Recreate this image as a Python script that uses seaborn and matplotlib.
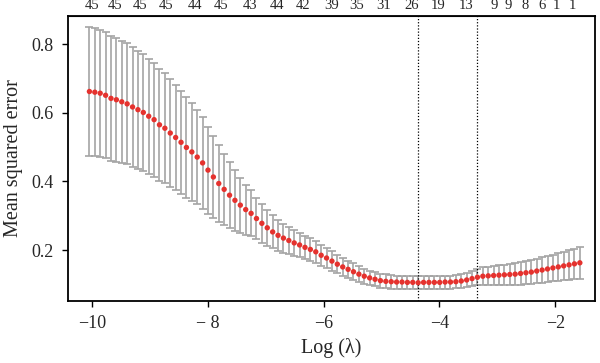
import numpy as np
import pandas as pd
import matplotlib
matplotlib.use("Agg")
import matplotlib.pyplot as plt
import seaborn as sns

# cross-validation curve (log lambda, mean MSE, sd)
log_lambda = [
    -10.04, -9.947, -9.854, -9.761, -9.668, -9.575, -9.482, -9.389, -9.296, -9.203,
    -9.11, -9.017, -8.924, -8.831, -8.738, -8.645, -8.552, -8.459, -8.366, -8.273,
    -8.18, -8.087, -7.994, -7.901, -7.808, -7.715, -7.622, -7.529, -7.436, -7.343,
    -7.25, -7.157, -7.064, -6.971, -6.878, -6.785, -6.692, -6.599, -6.506, -6.413,
    -6.32, -6.227, -6.134, -6.041, -5.948, -5.855, -5.762, -5.669, -5.576, -5.483,
    -5.39, -5.297, -5.204, -5.111, -5.018, -4.925, -4.832, -4.739, -4.646, -4.553,
    -4.46, -4.367, -4.274, -4.181, -4.088, -3.995, -3.902, -3.809, -3.716, -3.623,
    -3.53, -3.437, -3.344, -3.251, -3.158, -3.065, -2.972, -2.879, -2.786, -2.693,
    -2.6, -2.507, -2.414, -2.321, -2.228, -2.135, -2.042, -1.949, -1.856, -1.763,
    -1.67, -1.577,
]
cv_mean = [
    0.662, 0.660, 0.657, 0.651, 0.642, 0.638, 0.632, 0.626, 0.617, 0.609,
    0.601, 0.590, 0.580, 0.565, 0.555, 0.541, 0.528, 0.514, 0.499, 0.486,
    0.471, 0.454, 0.433, 0.413, 0.394, 0.377, 0.360, 0.345, 0.331, 0.318,
    0.307, 0.292, 0.278, 0.265, 0.253, 0.243, 0.235, 0.228, 0.221, 0.215,
    0.208, 0.202, 0.195, 0.185, 0.177, 0.168, 0.159, 0.151, 0.144, 0.137,
    0.130, 0.124, 0.119, 0.115, 0.111, 0.109, 0.108, 0.107, 0.107, 0.106,
    0.106, 0.105, 0.106, 0.106, 0.106, 0.106, 0.107, 0.107, 0.108, 0.110,
    0.113, 0.117, 0.121, 0.124, 0.125, 0.126, 0.127, 0.128, 0.129, 0.130,
    0.132, 0.134, 0.136, 0.139, 0.142, 0.145, 0.148, 0.151, 0.154, 0.157,
    0.160, 0.163,
]
cv_sd = [
    0.187, 0.186, 0.185, 0.184, 0.182, 0.180, 0.178, 0.176, 0.174, 0.172,
    0.170, 0.168, 0.166, 0.163, 0.160, 0.157, 0.154, 0.150, 0.146, 0.142,
    0.138, 0.133, 0.127, 0.120, 0.112, 0.104, 0.096, 0.088, 0.080, 0.073,
    0.067, 0.061, 0.056, 0.052, 0.048, 0.045, 0.042, 0.040, 0.038, 0.036,
    0.034, 0.033, 0.032, 0.030, 0.029, 0.028, 0.027, 0.026, 0.025, 0.024,
    0.023, 0.022, 0.021, 0.021, 0.020, 0.020, 0.020, 0.019, 0.019, 0.019,
    0.019, 0.019, 0.019, 0.019, 0.019, 0.019, 0.019, 0.019, 0.019, 0.020,
    0.021, 0.022, 0.024, 0.026, 0.027, 0.028, 0.029, 0.030, 0.031, 0.032,
    0.033, 0.034, 0.035, 0.036, 0.037, 0.038, 0.039, 0.040, 0.041, 0.043,
    0.044, 0.046,
]

# number of non-zero coefficients shown along the top
nzero_pos = [-10.0, -9.60, -9.17, -8.71, -8.22, -7.76, -7.27, -6.81, -6.35, -5.86,
             -5.43, -4.97, -4.48, -4.03, -3.54, -3.05, -2.81, -2.52, -2.23, -1.98, -1.70]
nzero = ["45", "45", "45", "45", "44", "45", "43", "44", "42", "39",
         "35", "31", "26", "19", "13", "9", "9", "8", "6", "1", "1"]

lambda_min = -4.367
lambda_1se = -3.344

x_ticks = [-10, -8, -6, -4, -2]
x_ticklabels = ["\u221210", "\u2212 8", "\u22126", "\u22124", "\u22122"]
y_ticks = [0.2, 0.4, 0.6, 0.8]

df = pd.DataFrame({"log_lambda": log_lambda, "cvm": cv_mean, "cvsd": cv_sd})

sns.set_style("ticks")
plt.rcParams["font.family"] = ["Liberation Serif", "DejaVu Serif"]

fig = plt.figure(figsize=(6, 3.63), dpi=100)
ax = fig.add_axes([0.1133, 0.1716, 0.8784, 0.7844])

# error bars first, then the red points on top
ax.errorbar(df["log_lambda"], df["cvm"], yerr=df["cvsd"], fmt="none",
            ecolor="#a4a4a4", elinewidth=1.2, capsize=3.2, capthick=1.2, zorder=1)
sns.scatterplot(data=df, x="log_lambda", y="cvm", color="#e5322e", s=15,
                edgecolor="none", linewidth=0, ax=ax, zorder=3)

ax.axvline(lambda_min, color="black", linestyle=(0, (1, 1.5)), linewidth=0.9, zorder=2)
ax.axvline(lambda_1se, color="black", linestyle=(0, (1, 1.5)), linewidth=0.9, zorder=2)

ax.set_xlim(-10.41, -1.315)
ax.set_ylim(0.0526, 0.882)
ax.set_xticks(x_ticks)
ax.set_xticklabels(x_ticklabels)
ax.set_yticks(y_ticks)
ax.set_yticklabels(["0.2", "0.4", "0.6", "0.8"])
ax.tick_params(axis="both", labelsize=13, length=4.5, width=1, color="black", pad=6)

ax.set_xlabel("Log (\u03bb)", fontsize=14.5, labelpad=4)
ax.set_ylabel("Mean squared error", fontsize=14.5, labelpad=6)

for side in ["left", "right", "top", "bottom"]:
    ax.spines[side].set_visible(True)
    ax.spines[side].set_linewidth(1.3)
    ax.spines[side].set_color("black")

top = ax.secondary_xaxis("top")
top.set_xticks(nzero_pos)
top.set_xticklabels(nzero)
top.tick_params(length=0, labelsize=10.5, pad=2.5)

fig.savefig("out.png", dpi=100)
